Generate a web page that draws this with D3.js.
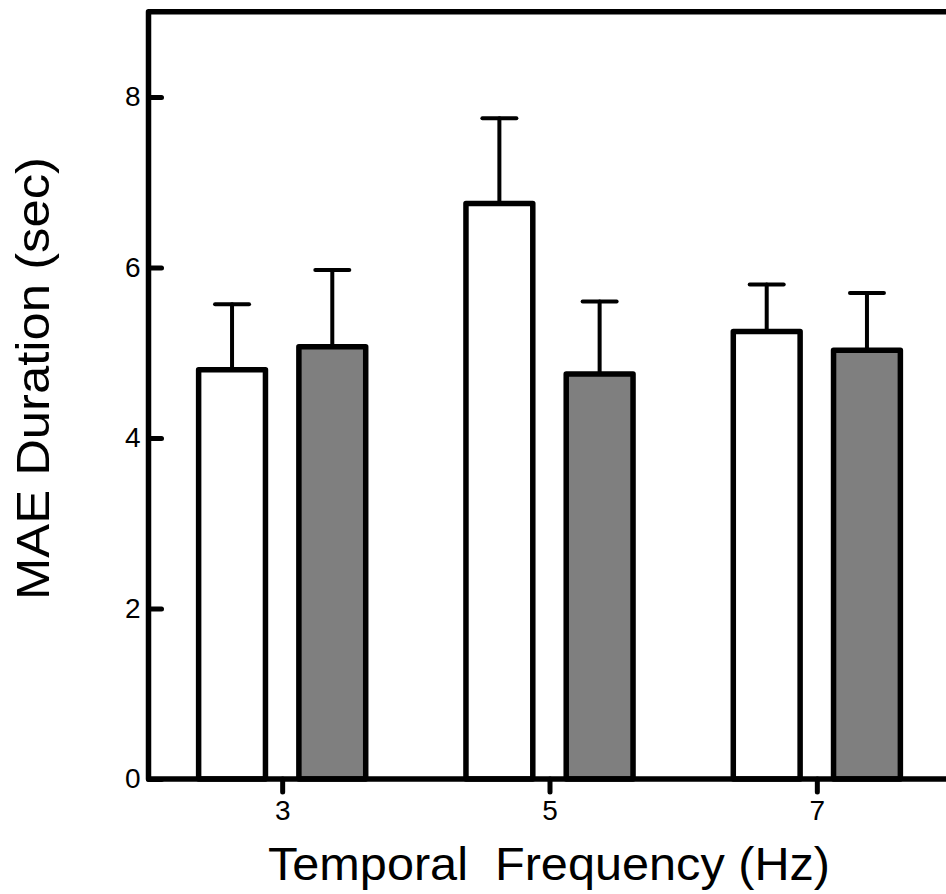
<!DOCTYPE html>
<html>
<head>
<meta charset="utf-8">
<script src="https://cdn.jsdelivr.net/npm/d3@7"></script>
<style>
  html, body { margin: 0; padding: 0; background: #fff; }
  text { font-family: Arial, "Liberation Sans", sans-serif; fill: #000; }
</style>
</head>
<body>
<svg id="chart" width="946" height="894"></svg>
<script>
// ---- data ----
const frequencies = [3, 5, 7];                 // Temporal frequency (Hz)
const seriesNames = ["open", "filled"];
const openMeans   = [4.80, 6.75, 5.25];
const openErrors  = [0.77, 1.00, 0.55];
const filledMeans = [5.07, 4.75, 5.03];
const filledErrors= [0.90, 0.85, 0.67];
const yTicks = [0, 2, 4, 6, 8];
const xTicks = [3, 5, 7];
const xLabel = "Temporal  Frequency (Hz)";
const yLabel = "MAE Duration (sec)";

// ---- layout ----
const svg = d3.select("#chart");
const x = d3.scaleLinear().domain([2, 8]).range([148.5, 950.5]);
const y = d3.scaleLinear().domain([0, 9]).range([779, 11.75]);
const offset = 0.375, barW = 0.5;

const bars = [];
frequencies.forEach((f, i) => {
  bars.push({f, pos: f - offset, mean: openMeans[i], err: openErrors[i], fill: "#ffffff"});
  bars.push({f, pos: f + offset, mean: filledMeans[i], err: filledErrors[i], fill: "#7f7f7f"});
});

// bars
svg.append("g").selectAll("rect").data(bars).join("rect")
  .attr("x", d => x(d.pos - barW / 2))
  .attr("width", d => x(d.pos + barW / 2) - x(d.pos - barW / 2))
  .attr("y", d => y(d.mean))
  .attr("height", d => y(0) - y(d.mean))
  .attr("fill", d => d.fill)
  .attr("stroke", "#000")
  .attr("stroke-width", 5.5)
  .attr("stroke-linejoin", "round");

// error bars
const eb = svg.append("g").attr("stroke", "#000").attr("stroke-linecap", "round");
eb.selectAll("line.stem").data(bars).join("line").attr("class", "stem")
  .attr("x1", d => x(d.pos)).attr("x2", d => x(d.pos))
  .attr("y1", d => y(d.mean)).attr("y2", d => y(d.mean + d.err))
  .attr("stroke-width", 4);
eb.selectAll("line.cap").data(bars).join("line").attr("class", "cap")
  .attr("x1", d => x(d.pos) - 17).attr("x2", d => x(d.pos) + 17)
  .attr("y1", d => y(d.mean + d.err)).attr("y2", d => y(d.mean + d.err))
  .attr("stroke-width", 4);

// frame
svg.append("rect")
  .attr("x", x(2)).attr("y", y(9))
  .attr("width", x(8) - x(2)).attr("height", y(0) - y(9))
  .attr("fill", "none").attr("stroke", "#000").attr("stroke-width", 5.5)
  .attr("stroke-linejoin", "round");

// y axis
const yAxis = svg.append("g").attr("transform", `translate(${x(2)},0)`)
  .call(d3.axisLeft(y).tickValues(yTicks).tickSize(-13).tickPadding(8).tickFormat(d3.format("d")));
yAxis.select(".domain").remove();
yAxis.selectAll(".tick line").attr("stroke", "#000").attr("stroke-width", 5).attr("stroke-linecap", "round");
yAxis.selectAll(".tick text").attr("font-size", 28).attr("font-family", "Arial, 'Liberation Sans', sans-serif");

// x axis
const xAxis = svg.append("g").attr("transform", `translate(0,${y(0)})`)
  .call(d3.axisBottom(x).tickValues(xTicks).tickSize(13).tickPadding(8).tickFormat(d3.format("d")));
xAxis.select(".domain").remove();
xAxis.selectAll(".tick line").attr("stroke", "#000").attr("stroke-width", 5).attr("stroke-linecap", "round");
xAxis.selectAll(".tick text").attr("font-size", 28).attr("font-family", "Arial, 'Liberation Sans', sans-serif");

// axis titles
svg.append("text")
  .attr("x", 549).attr("y", 880)
  .attr("text-anchor", "middle")
  .attr("font-size", 47)
  .attr("textLength", 562)
  .attr("lengthAdjust", "spacingAndGlyphs")
  .style("white-space", "pre")
  .attr("xml:space", "preserve")
  .text(xLabel);

svg.append("text")
  .attr("transform", "translate(49,378.5) rotate(-90)")
  .attr("text-anchor", "middle")
  .attr("font-size", 47)
  .attr("textLength", 443)
  .attr("lengthAdjust", "spacingAndGlyphs")
  .text(yLabel);
</script>
</body>
</html>
